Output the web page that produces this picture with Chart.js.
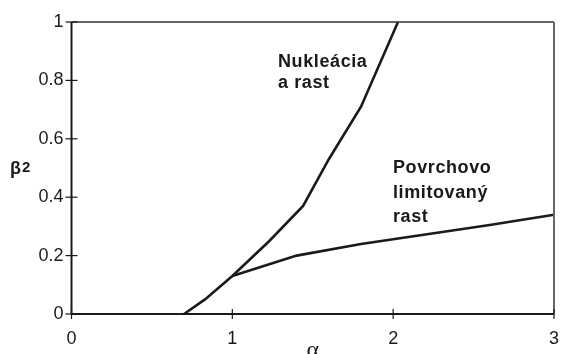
<!DOCTYPE html>
<html>
<head>
<meta charset="utf-8">
<script src="https://cdn.jsdelivr.net/npm/chart.js@4/dist/chart.umd.min.js"></script>
<style>
  html, body { margin:0; padding:0; background:#fff; }
  #wrap { width:563px; height:354px; }
</style>
</head>
<body>
<div id="wrap"><canvas id="c" width="563" height="354"></canvas></div>
<script>
// krivky fazoveho diagramu (alfa vs beta^2)
const nucX = [0.7, 0.83, 1.0, 1.23, 1.44, 1.6, 1.8, 2.03];
const nucY = [0, 0.05, 0.13, 0.25, 0.37, 0.53, 0.71, 1.0];
const surfX = [1.0, 1.4, 1.8, 2.6, 3.0];
const surfY = [0.13, 0.2, 0.24, 0.305, 0.34];
const xTicks = [0, 1, 2, 3];
const yTicks = [0, 0.2, 0.4, 0.6, 0.8, 1];
const labelNuc = ['Nukleácia', 'a rast'];
const labelSurf = ['Povrchovo', 'limitovaný', 'rast'];

const pts = (xs, ys) => xs.map((x, i) => ({ x, y: ys[i] }));
const SANS = '"Liberation Sans", Arial, Helvetica, sans-serif';

// ramik, znacky na osiach a popisky
const decor = {
  id: 'decor',
  afterDraw(chart){
    const { ctx, chartArea: a, scales } = chart;
    const sx = scales.x, sy = scales.y;
    ctx.save();
    ctx.lineCap = 'butt';
    // horny a pravy okraj
    ctx.strokeStyle = '#333'; ctx.lineWidth = 1.5;
    ctx.beginPath(); ctx.moveTo(a.left, a.top); ctx.lineTo(a.right, a.top); ctx.stroke();
    ctx.strokeStyle = '#666'; ctx.lineWidth = 2;
    ctx.beginPath(); ctx.moveTo(a.right, a.top); ctx.lineTo(a.right, a.bottom); ctx.stroke();
    // osi
    ctx.strokeStyle = '#1a1a1a'; ctx.lineWidth = 2;
    ctx.beginPath(); ctx.moveTo(a.left, a.top); ctx.lineTo(a.left, a.bottom); ctx.lineTo(a.right, a.bottom); ctx.stroke();
    // znacky cez os
    ctx.lineWidth = 1.2;
    xTicks.forEach(v => {
      const px = sx.getPixelForValue(v);
      ctx.beginPath(); ctx.moveTo(px, a.bottom - 5); ctx.lineTo(px, a.bottom + 5); ctx.stroke();
    });
    yTicks.forEach(v => {
      const py = sy.getPixelForValue(v);
      ctx.beginPath(); ctx.moveTo(a.left - 6, py); ctx.lineTo(a.left + 6, py); ctx.stroke();
    });
    // popisky kriviek
    ctx.fillStyle = '#1a1a1a';
    ctx.textBaseline = 'alphabetic';
    ctx.textAlign = 'left';
    ctx.font = 'bold 18px ' + SANS;
    ctx.letterSpacing = '0.6px';
    labelNuc.forEach((t, i) => ctx.fillText(t, 278, 67 + i * 21));
    labelSurf.forEach((t, i) => ctx.fillText(t, 393, 173 + i * 24.5));
    ctx.letterSpacing = '0px';
    // nazov osi y
    ctx.font = 'bold 18px ' + SANS;
    ctx.fillText('β', 10, 174);
    ctx.font = 'bold 15px ' + SANS;
    ctx.fillText('2', 22, 172);
    // nazov osi x
    ctx.font = '24px "Liberation Serif", "DejaVu Serif", serif';
    ctx.textAlign = 'center';
    ctx.fillText('α', (a.left + a.right) / 2, 357);
    ctx.restore();
  }
};

const lineDs = (data) => ({
  type: 'line', data, borderColor: '#1a1a1a', borderWidth: 2.6,
  pointRadius: 0, tension: 0, fill: false, clip: false
});

const chart = new Chart(document.getElementById('c').getContext('2d'), {
  data: { datasets: [ lineDs(pts(nucX, nucY)), lineDs(pts(surfX, surfY)) ] },
  options: {
    responsive: false, animation: false, parsing: true,
    layout: { padding: { top: 22, right: 0, left: 0, bottom: 0 } },
    plugins: { legend: { display: false }, tooltip: { enabled: false } },
    scales: {
      x: {
        type: 'linear', min: 0, max: 3,
        afterBuildTicks: s => { s.ticks = xTicks.map(v => ({ value: v })); },
        afterFit: s => { s.height = 40; s.paddingRight = 9; },
        grid: { display: false, drawTicks: false },
        border: { display: false },
        ticks: { color: '#1a1a1a', font: { family: SANS, size: 18 }, padding: 14, maxRotation: 0,
                 callback: v => String(v) }
      },
      y: {
        type: 'linear', min: 0, max: 1,
        afterBuildTicks: s => { s.ticks = yTicks.map(v => ({ value: v })); },
        afterFit: s => { s.width = 71.5; },
        grid: { display: false, drawTicks: false },
        border: { display: false },
        ticks: { color: '#1a1a1a', font: { family: SANS, size: 18 }, padding: 8,
                 callback: v => String(+v.toFixed(1)) }
      }
    }
  },
  plugins: [decor]
});
</script>
</body>
</html>
